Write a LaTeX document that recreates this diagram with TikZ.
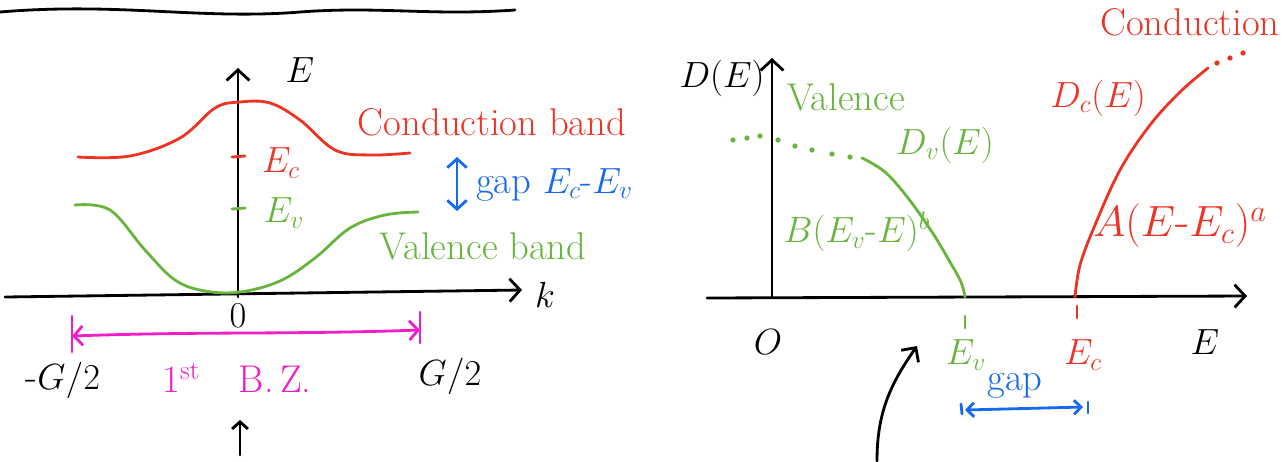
\documentclass[tikz,border=0pt]{standalone}
\usepackage{amsmath}
\usepackage{tikz}
\usetikzlibrary{arrows.meta,positioning}
\definecolor{bandred}{RGB}{236,52,36}
\definecolor{bandgreen}{RGB}{104,180,62}
\definecolor{gapblue}{RGB}{22,104,240}
\definecolor{bzpink}{RGB}{240,30,200}
\tikzset{
	pen/.style={line width=1.6pt,line cap=round,line join=round},
	barb/.style={-{Straight Barb[length=6pt,width=13pt]}},
	ax/.style={pen,barb},
	lbl/.style={font=\fontsize{22}{26}\selectfont,inner sep=1pt},
	biglbl/.style={font=\fontsize{27}{31}\selectfont,inner sep=1pt},
	dot/.style={circle,fill,inner sep=0pt,minimum size=3pt}
}
\begin{document}
\begin{tikzpicture}[x=0.02cm,y=-0.02cm]
	\useasboundingbox (0,0) rectangle (1287,461);
	% underline of the (cut off) title
	\draw[pen] (0,12) .. controls (120,2) and (200,20) .. (300,12) .. controls (380,6) and (430,16) .. (515,10);
	% band structure E(k)
	\coordinate (korig) at (5,297);
	\coordinate (kend) at (522,290);
	\coordinate (Ebot) at (238,297);
	\coordinate (Etop) at (238,68);
	\draw[ax] (korig) -- (kend);
	\draw[ax] (Ebot) -- (Etop);
	\node[lbl] (Elab) at (300,70) {$E$};
	\node[lbl] (klab) at (545,295) {$k$};
	\node[lbl] (kzero) at (238,316) {$0$};
	\draw[pen,bandred] plot[smooth,tension=.6] coordinates {(78,157) (130,156) (180,138) (215,108) (240,102) (270,103) (300,120) (335,150) (370,155) (410,153)};
	\draw[pen,bandgreen] plot[smooth,tension=.6] coordinates {(75,205) (110,210) (145,250) (175,280) (205,291) (240,292) (280,281) (315,258) (350,228) (385,215) (418,212)};
	\draw[pen,bandred] (232,157) -- (245,156);
	\draw[pen,bandgreen] (232,209) -- (245,208);
	\node[lbl,bandred] (EcL) at (281,163) {$E_c$};
	\node[lbl,bandgreen] (EvL) at (284,213) {$E_v$};
	\node[lbl,bandred] (cband) at (492,122) {Conduction band};
	\node[lbl,bandgreen] (vband) at (483,246) {Valence band};
	\coordinate (gaptop) at (457,157);
	\coordinate (gapbot) at (457,211);
	\draw[pen,gapblue,{Straight Barb[length=5pt,width=11pt]}-{Straight Barb[length=5pt,width=11pt]}] (gaptop) -- (gapbot);
	\node[lbl,gapblue,anchor=west] (gapL) at (474,185) {gap $E_c$-$E_v$};
	% first Brillouin zone
	\coordinate (bzl) at (72,336);
	\coordinate (bzr) at (420,330);
	\draw[pen,bzpink] (72,316) -- (72,352);
	\draw[pen,bzpink] (420,312) -- (420,343);
	\draw[pen,bzpink,{Straight Barb[length=5pt,width=11pt]}-{Straight Barb[length=5pt,width=11pt]}] (bzl) to[out=2,in=182] (bzr);
	\node[lbl] (mG) at (63,380) {-$G/2$};
	\node[lbl] (pG) at (450,376) {$G/2$};
	\node[lbl,bzpink] (bz) at (237,378) {1$^{\text{st}}$\quad B.\,Z.};
	\coordinate (arrL0) at (240,455);
	\coordinate (arrL1) at (240,420);
	\draw[pen,-{Straight Barb[length=4pt,width=9pt]}] (arrL0) -- (arrL1);
	% density of states D(E)
	\coordinate (Dorig) at (707,298);
	\coordinate (Dend) at (1247,296);
	\coordinate (Dbot) at (772,297);
	\coordinate (Dtop) at (772,58);
	\draw[ax] (Dorig) -- (Dend);
	\draw[ax] (Dbot) -- (Dtop);
	\node[lbl] (DElab) at (722,78) {$D(E)$};
	\node[lbl] (Ezero) at (768,342) {$O$};
	\node[lbl] (Elab2) at (1205,342) {$E$};
	% valence part
	\foreach \x/\y [count=\i] in {733/140,747/138,760/136,778/140,795/146,812/150,832/154,850/157}
		\node[dot,bandgreen] (vd\i) at (\x,\y) {};
	\draw[pen,bandgreen] plot[smooth,tension=.6] coordinates {(862,158) (885,172) (908,198) (932,232) (950,262) (961,282) (965,297)};
	\node[lbl,bandgreen] (valR) at (846,97) {Valence};
	\node[lbl,bandgreen] (DvR) at (945,145) {$D_v(E)$};
	\node[lbl,bandgreen] (Bfit) at (857,232) {$B(E_v$-$E)^b$};
	\draw[pen,bandgreen] (965,316) -- (965,328);
	\node[lbl,bandgreen] (EvR) at (966,355) {$E_v$};
	% conduction part
	\draw[pen,bandred] plot[smooth,tension=.6] coordinates {(1075,297) (1080,265) (1095,225) (1120,170) (1150,125) (1180,92) (1208,68)};
	\foreach \x/\y [count=\i] in {1217/63,1230/58,1243/53}
		\node[dot,bandred] (cd\i) at (\x,\y) {};
	\node[lbl,bandred] (condR) at (1190,22) {Conduction};
	\node[lbl,bandred] (DcR) at (1098,98) {$D_c(E)$};
	\node[biglbl,bandred] (Afit) at (1180,226) {$A(E$-$E_c)^a$};
	\draw[pen,bandred] (1077,306) -- (1077,318);
	\node[lbl,bandred] (EcR) at (1083,355) {$E_c$};
	% gap below the axis
	\node[lbl,gapblue] (gapR) at (1015,386) {gap};
	\coordinate (gapl) at (965,410);
	\coordinate (gapr) at (1083,407);
	\draw[pen,gapblue] (961,404) -- (962,414);
	\draw[pen,gapblue] (1088,402) -- (1088,413);
	\draw[pen,gapblue,{Straight Barb[length=4pt,width=8pt]}-{Straight Barb[length=4pt,width=8pt]}] (gapl) -- (gapr);
	\coordinate (arrR0) at (877,461);
	\coordinate (arrR1) at (917,346);
	\draw[pen,-{Straight Barb[length=6pt,width=12pt]}] (arrR0) to[out=90,in=-125] (arrR1);
\end{tikzpicture}
\end{document}
